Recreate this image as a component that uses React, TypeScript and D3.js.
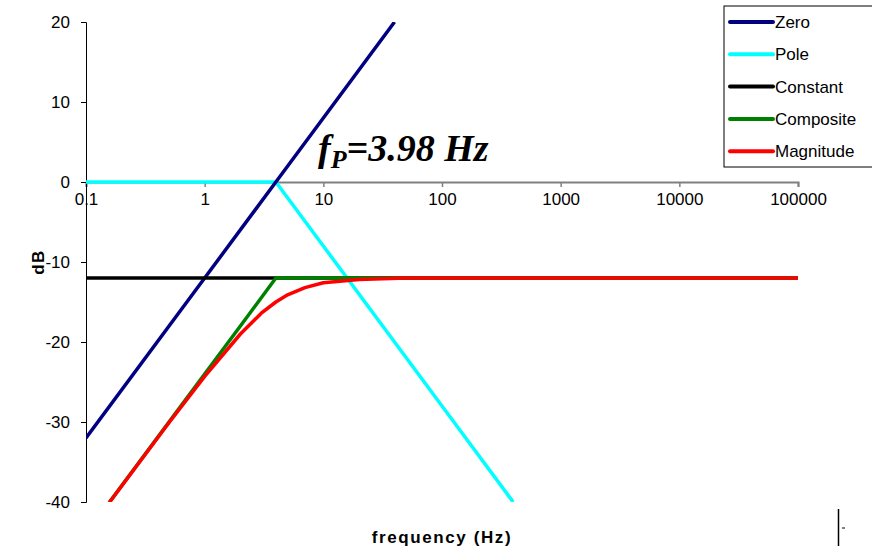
import { useEffect, useRef } from "react";
import * as d3 from "d3";

// values (frequency in Hz, level in dB)
const zeroFreq = [0.1, 1, 3.98, 10, 39.8];
const zeroDb = [-32, -12, 0, 8, 20];

const poleFreq = [0.1, 1, 3.98, 10, 100, 398];
const poleDb = [0, 0, 0, -8, -28, -40];

const constFreq = [0.1, 100000];
const constDb = [-12, -12];

const compFreq = [0.158, 0.5, 1, 2, 3.98, 10, 100, 100000];
const compDb = [-40, -30, -24, -18, -12, -12, -12, -12];

const magFreq = [0.153, 0.5, 1, 2, 3, 3.98, 5, 7, 10, 20, 50, 100, 100000];
const magDb = [-40.3, -30.1, -24.3, -19, -16.4, -15, -14.1, -13.2, -12.6, -12.2, -12, -12, -12];

const series = [
  { name: "Pole", freq: poleFreq, db: poleDb, color: "#00FFFF" },
  { name: "Zero", freq: zeroFreq, db: zeroDb, color: "#000080" },
  { name: "Constant", freq: constFreq, db: constDb, color: "#000000" },
  { name: "Composite", freq: compFreq, db: compDb, color: "#008000" },
  { name: "Magnitude", freq: magFreq, db: magDb, color: "#FF0000" },
];
const legendOrder = ["Zero", "Pole", "Constant", "Composite", "Magnitude"];

const xTicks = [0.1, 1, 10, 100, 1000, 10000, 100000];
const yTicks = [20, 10, 0, -10, -20, -30, -40];

export default function App() {
  const svgRef = useRef(null);
  const width = 872;
  const height = 549;

  useEffect(() => {
    const svg = d3.select(svgRef.current);
    svg.selectAll("*").remove();

    const x = d3.scaleLog().domain([0.1, 100000]).range([86, 798]);
    const y = d3.scaleLinear().domain([-40, 20]).range([502, 22]);
    const font = "Arial, 'Liberation Sans', sans-serif";

    svg.append("defs").append("clipPath").attr("id", "plot")
      .append("rect").attr("x", 86).attr("y", 22).attr("width", 720).attr("height", 480);

    // x axis along 0 dB
    const xAxis = svg.append("g").attr("transform", `translate(0,${y(0)})`)
      .call(d3.axisBottom(x).tickValues(xTicks).tickSize(5).tickFormat(d => String(d)));
    xAxis.select(".domain").attr("stroke", "#808080").attr("stroke-width", 2);
    xAxis.selectAll(".tick line").attr("stroke", "#808080").attr("stroke-width", 1.5);
    xAxis.selectAll(".tick text").attr("font-family", font).attr("font-size", 17)
      .attr("fill", "#000").attr("dy", "0.9em").attr("y", 8);

    const yAxis = svg.append("g").attr("transform", `translate(86,0)`)
      .call(d3.axisLeft(y).tickValues(yTicks).tickSize(5).tickSizeOuter(5)
        .tickFormat(d => String(d)));
    yAxis.select(".domain").attr("stroke", "#000").attr("stroke-width", 1);
    yAxis.selectAll(".tick text").attr("font-family", font).attr("font-size", 17)
      .attr("fill", "#000").attr("x", -16);

    const line = d3.line<[number, number]>().x(d => x(d[0])).y(d => y(d[1]));
    const g = svg.append("g").attr("clip-path", "url(#plot)");
    series.forEach(s => {
      g.append("path")
        .attr("d", line(s.freq.map((f, i) => [f, s.db[i]] as [number, number])))
        .attr("fill", "none").attr("stroke", s.color).attr("stroke-width", 3.5)
        .attr("stroke-linejoin", "round");
    });

    // annotation
    const ann = svg.append("text").attr("x", 318).attr("y", 161)
      .attr("font-family", "'Liberation Serif', 'Times New Roman', serif")
      .attr("font-style", "italic").attr("font-weight", "bold").attr("font-size", 38);
    ann.append("tspan").text("f");
    ann.append("tspan").attr("font-size", 26).attr("dy", 7).text("P");
    ann.append("tspan").attr("dy", -7).text("=3.98 Hz");

    // axis titles
    svg.append("text").attr("x", 442).attr("y", 543).attr("text-anchor", "middle")
      .attr("font-family", font).attr("font-weight", "bold").attr("font-size", 17)
      .attr("letter-spacing", 1.6).text("frequency (Hz)");
    svg.append("text").attr("transform", "translate(44,262) rotate(-90)")
      .attr("text-anchor", "middle").attr("font-family", font)
      .attr("font-weight", "bold").attr("font-size", 17).attr("letter-spacing", 1.5)
      .text("dB");

    // legend
    const lg = svg.append("g");
    lg.append("rect").attr("x", 724).attr("y", 6).attr("width", 160).attr("height", 161)
      .attr("fill", "#fff").attr("stroke", "#000").attr("stroke-width", 1);
    legendOrder.forEach((name, i) => {
      const s = series.find(d => d.name === name)!;
      const ly = 22 + i * 32.3;
      lg.append("line").attr("x1", 730).attr("x2", 773).attr("y1", ly).attr("y2", ly)
        .attr("stroke", s.color).attr("stroke-width", 4).attr("stroke-linecap", "round");
      lg.append("text").attr("x", 775).attr("y", ly).attr("dy", "0.36em")
        .attr("font-family", font).attr("font-size", 17).text(name);
    });

    // small mark in the corner
    svg.append("line").attr("x1", 838.5).attr("x2", 838.5).attr("y1", 509).attr("y2", 546)
      .attr("stroke", "#000").attr("stroke-width", 1.5);
    svg.append("line").attr("x1", 842).attr("x2", 845).attr("y1", 528).attr("y2", 528)
      .attr("stroke", "#000").attr("stroke-width", 1);
  }, []);

  return (
    <svg ref={svgRef} width={width} height={height}
      style={{ position: "absolute", left: 0, top: 0 }} />
  );
}
